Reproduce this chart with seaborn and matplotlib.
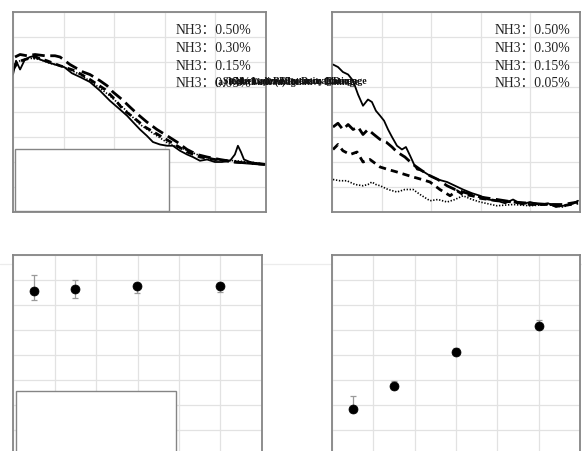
import numpy as np
import pandas as pd
import matplotlib
matplotlib.use("Agg")
import matplotlib.pyplot as plt
from matplotlib.lines import Line2D
from matplotlib.patches import Rectangle
import seaborn as sns

# ---------------- data ----------------
labels = ["NH3：0.50%", "NH3：0.30%", "NH3：0.15%", "NH3：0.05%"]

# top-left panel curves (x in %, y arbitrary units)
tl_solid_x = [0, 1.2, 2.8, 4.7, 6.7, 8.7, 10.7, 13.4, 16.6, 20.2, 23.3, 26.5, 30.4, 34.4, 38.3, 42.3,
              45.1, 47.4, 50.2, 52.9, 55.3, 58.1, 60.9, 63.2, 66.0, 68.8, 71.1, 73.9, 76.7, 79.8,
              82.6, 85.8, 87.7, 88.9, 90.1, 91.3, 93.7, 96.4, 100]
tl_solid_y = [5.5, 6.05, 5.7, 6.1, 6.2, 6.25, 6.1, 6.0, 5.9, 5.8, 5.55, 5.4, 5.2, 4.85, 4.45, 4.1,
              3.85, 3.6, 3.3, 3.05, 2.8, 2.7, 2.65, 2.65, 2.45, 2.3, 2.2, 2.05, 2.1, 2.0,
              2.0, 2.05, 2.3, 2.65, 2.4, 2.1, 2.0, 1.95, 1.9]
tl_ldash_x = [0.8, 2.8, 5.5, 8.7, 12.6, 16.6, 18.6, 22.5, 27.7, 30.4, 34.4, 37.2, 39.5, 43.1, 46.2,
              49.4, 52.9, 56.9, 60.9, 64.8, 68.8, 72.7, 76.7, 81.8, 87.7, 93.7, 100]
tl_ldash_y = [6.2, 6.3, 6.25, 6.3, 6.25, 6.25, 6.2, 5.9, 5.6, 5.5, 5.25, 5.05, 4.8, 4.5, 4.2,
              3.9, 3.6, 3.3, 3.05, 2.8, 2.5, 2.3, 2.2, 2.1, 2.0, 1.95, 1.9]
tl_sdash_x = [0, 2.0, 4.7, 8.7, 13.4, 18.6, 24.5, 30.4, 36.4, 40.3, 43.5, 47.4, 52.2, 58.1, 64.0,
              68.8, 73.9, 79.8, 87.7, 93.7, 100]
tl_sdash_y = [5.7, 6.0, 6.1, 6.2, 6.05, 5.85, 5.65, 5.3, 4.9, 4.5, 4.1, 3.8, 3.4, 3.05, 2.7,
              2.4, 2.2, 2.1, 2.0, 1.95, 1.9]
tl_dot_x = [0.4, 2.8, 6.7, 10.7, 14.6, 20.2, 26.5, 32.4, 38.3, 44.3, 50.2, 56.1, 62.1, 68.0,
            73.9, 79.8, 87.7, 93.7, 100]
tl_dot_y = [5.9, 6.05, 6.15, 6.1, 5.95, 5.8, 5.5, 5.1, 4.65, 4.1, 3.5, 3.1, 2.7, 2.5,
            2.25, 2.1, 2.05, 2.0, 1.9]

# top-right panel curves
tr_solid_x = [0.4, 2.4, 4.4, 6.5, 8.5, 10.5, 12.5, 14.5, 16.1, 17.7, 19.4, 21.0, 22.6, 24.2, 26.2,
              28.2, 29.8, 31.5, 33.1, 34.3, 36.3, 39.5, 42.7, 46.4, 49.6, 52.8, 56.5, 59.7, 62.9,
              66.5, 69.8, 73.0, 76.6, 79.8, 83.9, 87.1, 90.3, 93.1, 96.4, 99.2]
tr_solid_y = [5.9, 5.8, 5.6, 5.5, 5.25, 4.7, 4.25, 4.5, 4.4, 4.05, 3.85, 3.65, 3.3, 3.0, 2.65,
              2.5, 2.6, 2.25, 1.9, 1.7, 1.65, 1.45, 1.3, 1.2, 1.05, 0.9, 0.75, 0.65, 0.5,
              0.45, 0.35, 0.5, 0.3, 0.4, 0.3, 0.35, 0.2, 0.25, 0.3, 0.45]
tr_ldash_x = [0.4, 2.4, 4.4, 6.5, 8.5, 10.5, 12.5, 14.5, 16.9, 19.4, 21.8, 24.2, 26.2, 29.4, 32.7,
              36.3, 39.5, 42.7, 46.4, 49.6, 52.8, 56.5, 59.7, 66.5, 73.0, 79.8, 87.1, 93.1, 99.2]
tr_ldash_y = [3.4, 3.55, 3.3, 3.5, 3.3, 3.4, 3.1, 3.3, 3.1, 2.9, 2.8, 2.6, 2.4, 2.2, 1.9,
              1.65, 1.45, 1.3, 1.05, 0.9, 0.8, 0.7, 0.6, 0.5, 0.4, 0.35, 0.3, 0.3, 0.4]
tr_sdash_x = [0.4, 2.4, 4.4, 7.3, 10.1, 12.5, 15.3, 19.4, 22.6, 26.2, 29.4, 32.7, 36.3, 39.5, 43.5,
              47.6, 50.4, 52.8, 56.5, 59.7, 66.5, 73.0, 79.8, 87.1, 93.1, 99.2]
tr_sdash_y = [2.5, 2.7, 2.45, 2.3, 2.4, 2.0, 2.1, 1.8, 1.7, 1.6, 1.5, 1.4, 1.3, 1.2, 0.9,
              0.65, 0.85, 0.7, 0.65, 0.55, 0.45, 0.4, 0.3, 0.3, 0.25, 0.35]
tr_dot_x = [0.4, 3.2, 6.0, 9.3, 12.5, 14.5, 16.1, 17.7, 19.4, 22.6, 26.2, 29.4, 32.7, 35.5, 39.5,
            42.7, 46.4, 49.6, 52.8, 56.5, 59.7, 66.5, 73.0, 79.8, 87.1, 93.1, 99.2]
tr_dot_y = [1.3, 1.25, 1.25, 1.1, 1.05, 1.1, 1.2, 1.1, 1.05, 0.9, 0.8, 0.9, 0.9, 0.7, 0.45,
            0.5, 0.4, 0.5, 0.65, 0.5, 0.4, 0.25, 0.3, 0.25, 0.3, 0.2, 0.4]

# bottom panels: concentration vs value
conc = [0.05, 0.15, 0.30, 0.50]
bl_y = [6.56, 6.64, 6.76, 6.76]
bl_err_lo = [0.37, 0.35, 0.27, 0.24]
bl_err_hi = [0.64, 0.35, 0.13, 0.12]
br_y = [1.84, 2.75, 4.11, 5.17]
br_err_lo = [0.10, 0.10, 0.10, 0.10]
br_err_hi = [0.53, 0.23, 0.17, 0.24]

# ---------------- style ----------------
sns.set_style("whitegrid")
plt.rcParams["font.family"] = ["Liberation Serif", "Noto Sans CJK SC", "DejaVu Sans"]
plt.rcParams["axes.unicode_minus"] = False

W, H = 582, 452
fig = plt.figure(figsize=(W / 100, H / 100), dpi=100)

def fax(l, t, w, h):
    return fig.add_axes([l / W, 1 - (t + h) / H, w / W, h / H])

ax_tl = fax(13, 13, 253, 200)
ax_tr = fax(332, 13, 248, 200)
ax_bl = fax(13, 256, 249, 200)
ax_br = fax(332, 256, 248, 200)

grid_c = "#e2e2e2"
spine_c = "#858585"
for ax in (ax_tl, ax_tr, ax_bl, ax_br):
    ax.set_facecolor("white")
    ax.grid(True, color=grid_c, linewidth=0.9)
    for s in ax.spines.values():
        s.set_visible(True)
        s.set_color(spine_c)
        s.set_linewidth(1.3)
    ax.tick_params(length=0, labelleft=False, labelbottom=False)
    ax.set_axisbelow(True)

for ax in (ax_tl, ax_tr):
    ax.set_xlim(0, 100)
    ax.set_ylim(0, 8)
    ax.set_xticks(np.arange(0, 101, 20))
    ax.set_yticks(np.arange(0, 9, 1))
for ax in (ax_bl, ax_br):
    ax.set_xlim(0, 0.6)
    ax.set_ylim(0, 8)
    ax.set_xticks(np.arange(0, 0.61, 0.1))
    ax.set_yticks(np.arange(0, 9, 1))

styles = [
    dict(lw=1.3, dashes=None),
    dict(lw=2.0, dashes=(4.5, 2.0)),
    dict(lw=2.0, dashes=(2.6, 1.8)),
    dict(lw=1.2, dashes=(0.8, 1.0)),
]

def draw_curves(ax, xs, ys):
    for (x, y), st in zip(zip(xs, ys), styles):
        sns.lineplot(x=x, y=y, ax=ax, color="black", lw=st["lw"], sort=False,
                     estimator=None, legend=False)
        line = ax.lines[-1]
        if st["dashes"] is not None:
            line.set_dashes(st["dashes"])

draw_curves(ax_tl, [tl_solid_x, tl_ldash_x, tl_sdash_x, tl_dot_x],
            [tl_solid_y, tl_ldash_y, tl_sdash_y, tl_dot_y])
draw_curves(ax_tr, [tr_solid_x, tr_ldash_x, tr_sdash_x, tr_dot_x],
            [tr_solid_y, tr_ldash_y, tr_sdash_y, tr_dot_y])

for ax, y, lo, hi in ((ax_bl, bl_y, bl_err_lo, bl_err_hi), (ax_br, br_y, br_err_lo, br_err_hi)):
    ax.errorbar(conc, y, yerr=[lo, hi], fmt="none", ecolor="#9a9a9a",
                elinewidth=0.9, capsize=2.2, capthick=0.9, zorder=2)
    sns.scatterplot(x=conc, y=y, ax=ax, color="black", s=42, edgecolor="black",
                    linewidth=0.5, zorder=3, legend=False)

for ax in (ax_tl, ax_tr, ax_bl, ax_br):
    ax.set_xlabel("")
    ax.set_ylabel("")

# empty white boxes
for ax, rect in ((ax_tl, (0.008, 0.005, 0.609, 0.31)), (ax_bl, (0.012, 0.0, 0.643, 0.32))):
    ax.add_patch(Rectangle(rect[:2], rect[2], rect[3], transform=ax.transAxes,
                           facecolor="white", edgecolor=spine_c, linewidth=1.0, zorder=4))

# legends (text only, transparent frame)
handles = [Line2D([], [], color="none") for _ in labels]
def make_legend(ax, right_px, top_px):
    leg = ax.legend(handles, labels, loc="upper right",
                    bbox_to_anchor=(right_px / W, 1 - top_px / H),
                    bbox_transform=fig.transFigure, fontsize=9.9, frameon=True,
                    fancybox=False, framealpha=0, edgecolor=spine_c,
                    borderpad=0.55, handlelength=1.6, handletextpad=0.5,
                    labelspacing=0.36, borderaxespad=0)
    leg.get_frame().set_linewidth(1.0)
    leg.set_zorder(5)
    for t in leg.get_texts():
        t.set_color("#222222")
    return leg

make_legend(ax_tl, 259, 16)
make_legend(ax_tr, 578, 16)

# overlapping collapsed labels next to the first legend
garble = ["(a) Relative Damage", "Single-Layer Film Damage", "Normalized Intensity Ratio",
          "Time (s) Relative Damage", "Reflectance Change", "Damage"]
offs = [0, 8, 20, 36, 58, 118]
for g, o in zip(garble, offs):
    fig.text((215 + o) / W, 1 - 82 / H, g, fontsize=7.0, fontweight="bold",
             color="#111111", va="center", ha="left", zorder=10)

# faint figure-wide line
fig.add_artist(Line2D([0, 1], [1 - 265 / H, 1 - 265 / H], transform=fig.transFigure,
                      color="#ececec", linewidth=0.9, zorder=0))

fig.savefig("out.png", dpi=100)
